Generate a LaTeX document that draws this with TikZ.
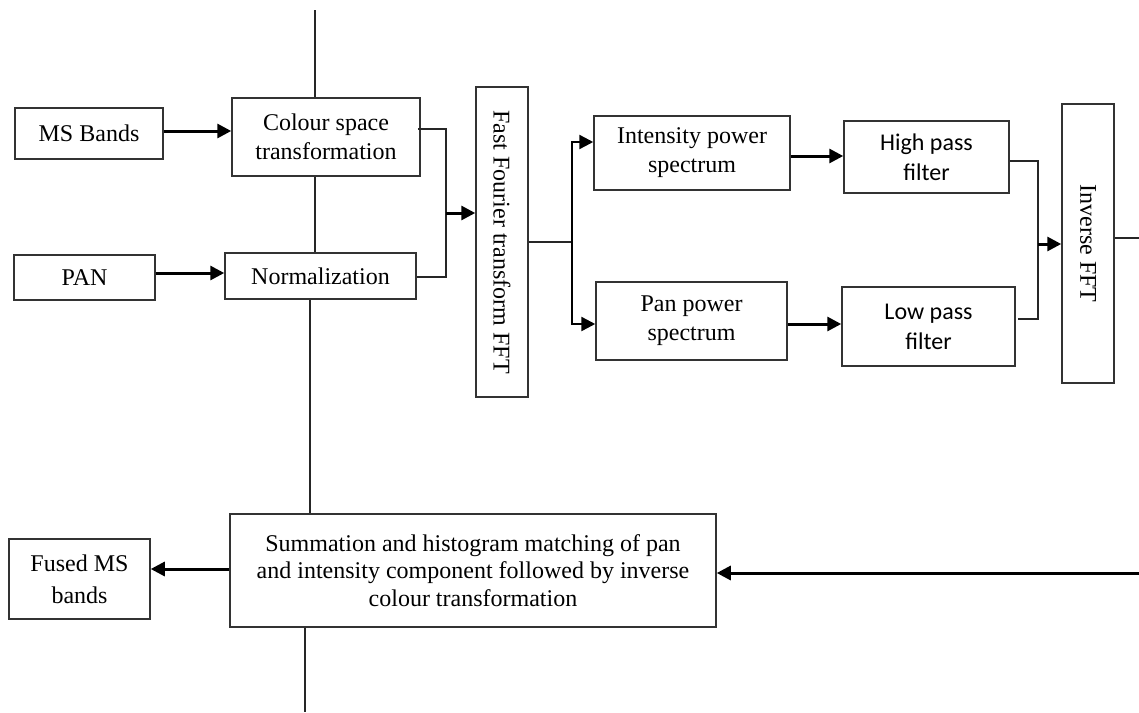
\documentclass[tikz,border=0pt]{standalone}
\usepackage{fontspec}
\setmainfont{Liberation Serif}
\newfontfamily\calibri{Carlito}
\usetikzlibrary{arrows.meta,calc}
\tikzset{
  box/.style={draw=black!80, line width=1.5pt, inner sep=0pt, align=center,
    font=\fontsize{24}{29}\selectfont},
  sbox/.style={box, font=\calibri\fontsize{24}{30}\selectfont},
  thin/.style={draw=black!85, line width=1.2pt},
  arr/.style={draw=black, line width=3pt, -{Triangle[length=14pt,width=14pt]}},
  rlabel/.style={rotate=-90, inner sep=0pt, font=\fontsize{24}{29}\selectfont}
}
\begin{document}
\begin{tikzpicture}[x=1pt,y=-1pt]
\useasboundingbox (0,0) rectangle (1139,712);
% boxes
\node[box, minimum width=148, minimum height=51] (ms) at (89,133.5) {MS Bands};
\node[box, minimum width=188, minimum height=78] (cst) at (326,137) {Colour space\\transformation};
\node[box, minimum width=141, minimum height=45] (pan) at (84.5,277.5) {PAN};
\node[box, minimum width=191, minimum height=46] (norm) at (320.5,276) {Normalization};
\node[box, minimum width=52, minimum height=310] (fft) at (502,242) {};
\node[rlabel] (fftl) at (fft) {Fast Fourier transform FFT};
\node[box, minimum width=196, minimum height=74] (ips) at (692,153) {Intensity power\\spectrum};
\node[box, minimum width=191, minimum height=78] (pps) at (691.5,321) {Pan power\\spectrum};
\node[sbox, minimum width=165, minimum height=72] (hpf) at (926.5,157) {High pass\\filter};
\node[sbox, minimum width=173, minimum height=79] (lpf) at (928.5,326.5) {Low pass\\filter};
\node[box, minimum width=52, minimum height=279] (ifft) at (1088,243.5) {};
\node[rlabel] (ifftl) at (ifft) {Inverse FFT};
\node[box, minimum width=486, minimum height=113, font=\fontsize{24}{27.5}\selectfont] (sum) at (473,570.5)
  {Summation and histogram matching of pan\\and intensity component followed by inverse\\colour transformation};
\node[box, minimum width=141, minimum height=80, font=\fontsize{24}{32}\selectfont] (fused) at (79.5,579) {Fused MS\\bands};
% coordinates
\coordinate (top) at (315,10);
\coordinate (c1) at (310,0);
\coordinate (bot) at (305,712);
\coordinate (j1) at (446,213);
\coordinate (j2) at (572,242);
\coordinate (j3) at (1038,244);
\coordinate (r1) at (1139,238);
\coordinate (r2) at (1139,573);
% thin lines
\draw[thin] (top) -- (top |- cst.north);
\draw[thin] (cst.south -| top) -- (norm.north -| top);
\draw[thin] (norm.south -| c1) -- (sum.north -| c1);
\draw[thin] (sum.south -| bot) -- (bot);
\draw[thin] ($(cst.east)+(-3,-8)$) -| (j1) |- ($(norm.east)+(0,1)$);
\draw[thin] (fft.east |- j2) -- (j2);
\draw[thin] ($(hpf.east)+(0,4)$) -| (j3) |- ($(lpf.east)+(2,-7.5)$);
\draw[thin] (ifft.east |- r1) -- (r1);
% arrows
\draw[arr] (ms.east |- 0,131) -- (cst.west |- 0,131);
\draw[arr] (pan.east |- 0,273) -- (norm.west |- 0,273);
\draw[arr] (j1) -- (j1 -| fft.west);
\draw[arr, line width=2.4pt] (j2) |- ($(ips.west)+(0,-11)$);
\draw[arr, line width=2.4pt] (j2) |- ($(pps.west)+(0,3)$);
\draw[arr] (ips.east |- 0,156) -- (hpf.west |- 0,156);
\draw[arr] (pps.east |- 0,324) -- (lpf.west |- 0,324);
\draw[arr] (j3) -- (j3 -| ifft.west);
\draw[arr] (r2) -- (r2 -| sum.east);
\draw[arr] (sum.west |- 0,569) -- (fused.east |- 0,569);
\end{tikzpicture}
\end{document}
